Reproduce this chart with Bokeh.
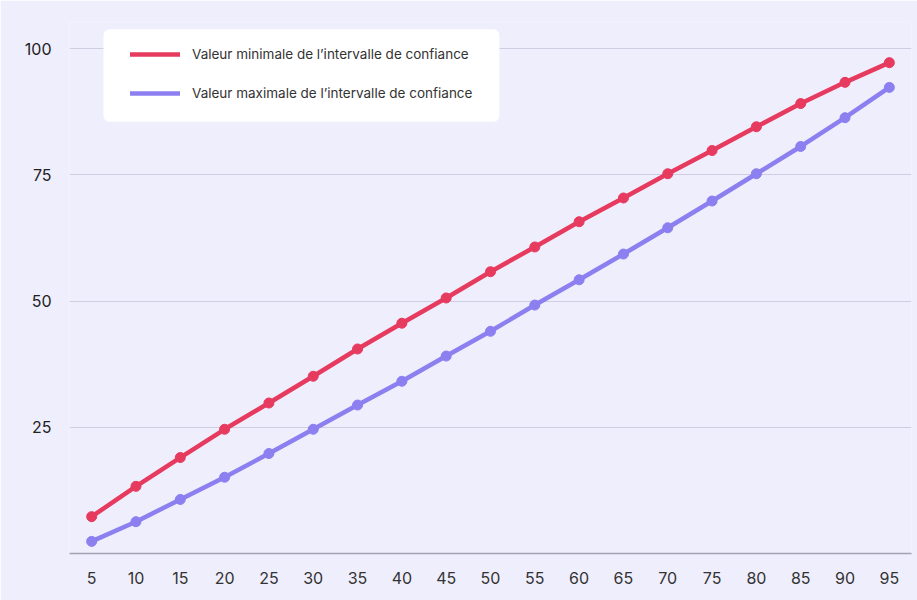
from bokeh.plotting import figure
from bokeh.models import FixedTicker, Legend, LegendItem, ColumnDataSource, BoxAnnotation
from bokeh.embed import file_html
from bokeh.resources import INLINE

categories = ["5", "10", "15", "20", "25", "30", "35", "40", "45", "50",
              "55", "60", "65", "70", "75", "80", "85", "90", "95"]
valeur_min = [7.3, 13.3, 19.0, 24.6, 29.8, 35.1, 40.5, 45.6, 50.6, 55.8,
              60.7, 65.7, 70.4, 75.2, 79.8, 84.5, 89.1, 93.3, 97.2]
valeur_max = [2.4, 6.3, 10.7, 15.1, 19.8, 24.6, 29.4, 34.1, 39.1, 44.0,
              49.2, 54.2, 59.3, 64.5, 69.8, 75.2, 80.6, 86.3, 92.3]
y_ticks = [25, 50, 75, 100]
label_min = "Valeur minimale de l\u2019intervalle de confiance"
label_max = "Valeur maximale de l\u2019intervalle de confiance"

RED = "#e63a5e"
PURPLE = "#8c7ff0"
BG = "#efeefc"
FONT = "Inter"

src = ColumnDataSource(data=dict(x=categories, lo=valeur_min, hi=valeur_max))

p = figure(x_range=categories, y_range=(0, 105.15), width=917, height=600,
           output_backend="svg", toolbar_location=None,
           min_border_left=69, min_border_right=6, min_border_top=22,
           min_border_bottom=47)
p.x_range.range_padding = 0
p.background_fill_color = BG
p.border_fill_color = BG
p.outline_line_color = None

r1 = p.line("x", "lo", source=src, line_color=RED, line_width=4.5, line_cap="round")
p.scatter("x", "lo", source=src, size=10, color=RED)
r2 = p.line("x", "hi", source=src, line_color=PURPLE, line_width=4.5, line_cap="round")
p.scatter("x", "hi", source=src, size=10, color=PURPLE)

p.xgrid.grid_line_color = None
p.ygrid.grid_line_color = "#cfcde2"
p.ygrid.grid_line_width = 1.2
p.yaxis.ticker = FixedTicker(ticks=y_ticks)
p.yaxis.axis_line_color = None
p.yaxis.major_tick_line_color = None
p.yaxis.minor_tick_line_color = None
p.yaxis.major_label_standoff = 12
p.yaxis.major_label_text_font = FONT
p.yaxis.major_label_text_font_size = "16px"
p.yaxis.major_label_text_color = "#222222"

p.xaxis.axis_line_color = "#a3a2b3"
p.xaxis.axis_line_width = 1.5
p.xaxis.major_tick_line_color = None
p.xaxis.minor_tick_line_color = None
p.xaxis.major_label_standoff = 12
p.xaxis.major_label_text_font = FONT
p.xaxis.major_label_text_font_size = "16px"
p.xaxis.major_label_text_color = "#333333"

# white rounded box behind the legend
legend_box = BoxAnnotation(left=0.767, right=9.70, bottom=85.5, top=103.8,
                           fill_color="white", fill_alpha=1.0, line_color=None,
                           border_radius=6)
p.add_layout(legend_box)

legend = Legend(items=[LegendItem(label=label_min, renderers=[r1]),
                       LegendItem(label=label_max, renderers=[r2])],
                location=(61, 452))
legend.background_fill_alpha = 0.0
legend.border_line_color = None
legend.label_text_font = FONT
legend.label_text_font_size = "13.5px"
legend.label_text_color = "#333333"
legend.glyph_width = 50
legend.glyph_height = 16
legend.label_height = 16
legend.label_standoff = 12
legend.spacing = 23
legend.padding = 0
legend.margin = 0
p.add_layout(legend, "center")

open("out.html", "w").write(file_html(p, INLINE))
